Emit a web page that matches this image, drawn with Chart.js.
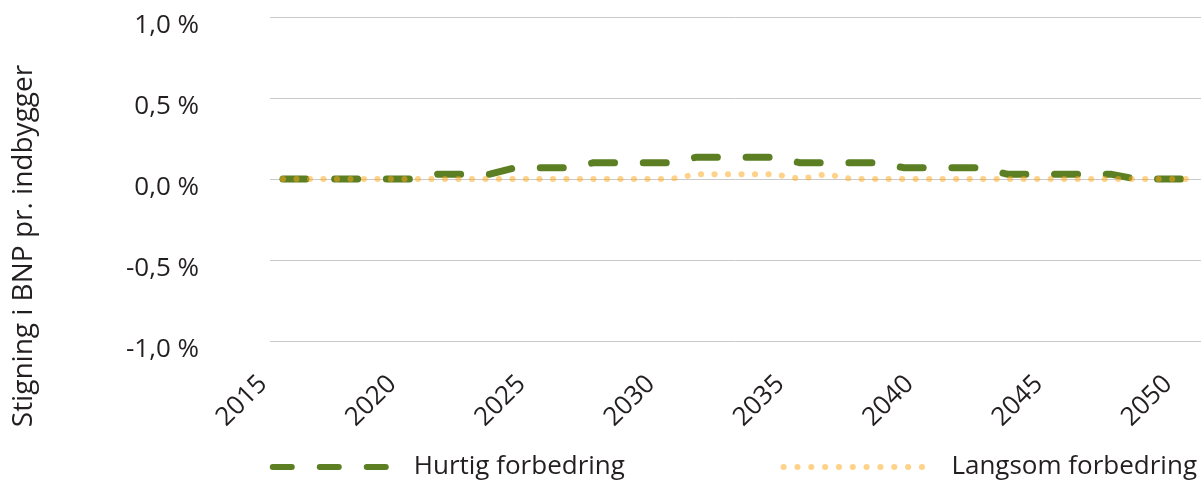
<!DOCTYPE html>
<html>
<head>
<meta charset="utf-8">
<script src="https://cdn.jsdelivr.net/npm/chart.js@4/dist/chart.umd.min.js"></script>
<style>
  html, body { margin: 0; padding: 0; background: #ffffff; }
  #wrap { width: 1201px; height: 485px; position: relative; }
</style>
</head>
<body>
<div id="wrap"><canvas id="c"></canvas></div>
<script>
// ---- data ----
const years = ['2015','2016','2017','2018','2019','2020','2021','2022','2023','2024',
               '2025','2026','2027','2028','2029','2030','2031','2032','2033','2034',
               '2035','2036','2037','2038','2039','2040','2041','2042','2043','2044',
               '2045','2046','2047','2048','2049','2050'];
const hurtigForbedring = [0, 0, 0, 0, 0, 0,
                          0.03, 0.03, 0.03,
                          0.07, 0.07, 0.07,
                          0.10, 0.10, 0.10, 0.10,
                          0.135, 0.135, 0.135, 0.135,
                          0.10, 0.10, 0.10, 0.10,
                          0.07, 0.07, 0.07, 0.07,
                          0.03, 0.03, 0.03, 0.03, 0.03,
                          0, 0, 0];
const langsomForbedring = [0, 0, 0, 0, 0, 0, 0, 0, 0, 0,
                           0, 0, 0, 0, 0, 0, 0.03, 0.03, 0.03, 0.03,
                           0, 0.03, 0, 0, 0, 0, 0, 0, 0, 0,
                           0, 0, 0, 0, 0, 0];
const seriesNames = ['Hurtig forbedring', 'Langsom forbedring'];
const yTitle = 'Stigning i BNP pr. indbygger';
const yMin = -1.0, yMax = 1.0, yStep = 0.5;

// ---- styles ----
const FONT = "'Open Sans', 'Noto Sans', sans-serif";
const TEXT = '#231f20';
const GREEN = '#5b7f22';
const ORANGE = 'rgba(253,168,28,0.52)';

const legendDash = [
  [19, 28, 19, 28, 19, 400],
  [0.1, 13.73, 0.1, 13.73, 0.1, 13.73, 0.1, 13.73, 0.1, 13.73, 0.1, 13.73, 0.1, 13.73, 0.1, 13.73, 0.1, 13.73, 0.1, 13.73, 0.1, 400]
];
const legendLeftBlank = [181.5, 154.7];

const yTitlePlugin = {
  id: 'yTitle',
  afterDraw(chart) {
    const ctx = chart.ctx;
    ctx.save();
    ctx.translate(24, 246);
    ctx.rotate(-Math.PI / 2);
    ctx.font = "28px " + FONT;
    ctx.fillStyle = TEXT;
    ctx.textAlign = 'center';
    ctx.textBaseline = 'middle';
    ctx.fillText(yTitle, 0, 0);
    ctx.restore();
  }
};

new Chart(document.getElementById('c'), {
  type: 'line',
  data: {
    labels: years,
    datasets: [
      {
        label: seriesNames[0],
        data: hurtigForbedring,
        borderColor: GREEN,
        backgroundColor: GREEN,
        borderWidth: 7,
        borderDash: [23, 28.72],
        borderCapStyle: 'round',
        borderJoinStyle: 'round',
        pointRadius: 0,
        tension: 0,
        fill: false,
        order: 1
      },
      {
        label: seriesNames[1],
        data: langsomForbedring,
        borderColor: ORANGE,
        backgroundColor: ORANGE,
        borderWidth: 6,
        borderDash: [0.1, 13.4],
        borderCapStyle: 'round',
        borderJoinStyle: 'round',
        pointRadius: 0,
        tension: 0,
        fill: false,
        order: 0
      }
    ]
  },
  options: {
    responsive: true,
    maintainAspectRatio: false,
    animation: false,
    events: [],
    layout: { padding: { top: 17, right: 0, bottom: -5, left: 0 } },
    scales: {
      x: {
        type: 'category',
        offset: true,
        grid: { display: false, drawTicks: false },
        border: { display: false },
        ticks: {
          autoSkip: false,
          maxRotation: 45,
          minRotation: 45,
          padding: 28,
          labelOffset: -20,
          color: TEXT,
          font: { family: FONT, size: 26 },
          callback: function (v, i) { return Number(years[i]) % 5 === 0 ? years[i] : ''; }
        },
        afterFit: function (scale) {
          scale.height = 109;
          scale.paddingLeft = 0; scale.paddingRight = 0;
          scale.paddingTop = 0; scale.paddingBottom = 0;
        }
      },
      y: {
        min: yMin,
        max: yMax,
        grid: { color: '#c9c9c9', lineWidth: 1, drawTicks: false },
        border: { display: false },
        ticks: {
          stepSize: yStep,
          padding: 71,
          labelOffset: 9,
          color: TEXT,
          font: { family: FONT, size: 26 },
          callback: function (v) { return v.toFixed(1).replace('.', ',') + ' %'; }
        },
        afterFit: function (scale) {
          scale.width = 270;
          scale.paddingTop = 0; scale.paddingBottom = 0;
          scale.paddingLeft = 0; scale.paddingRight = 0;
        }
      }
    },
    plugins: {
      tooltip: { enabled: false },
      legend: {
        display: true,
        position: 'bottom',
        align: 'end',
        labels: {
          usePointStyle: true,
          pointStyleWidth: 309.5,
          padding: 4,
          color: TEXT,
          font: { family: FONT, size: 26 },
          generateLabels: function (chart) {
            return chart.data.datasets.map(function (ds, i) {
              const total = legendDash[i].reduce(function (a, b) { return a + b; }, 0);
              return {
                text: ds.label,
                datasetIndex: i,
                hidden: false,
                fillStyle: ds.borderColor,
                strokeStyle: ds.borderColor,
                lineWidth: 6,
                lineCap: 'round',
                lineJoin: 'round',
                lineDash: legendDash[i],
                lineDashOffset: total - legendLeftBlank[i],
                pointStyle: 'line',
                rotation: 0,
                fontColor: TEXT
              };
            });
          }
        }
      }
    }
  },
  plugins: [yTitlePlugin]
});
</script>
</body>
</html>
